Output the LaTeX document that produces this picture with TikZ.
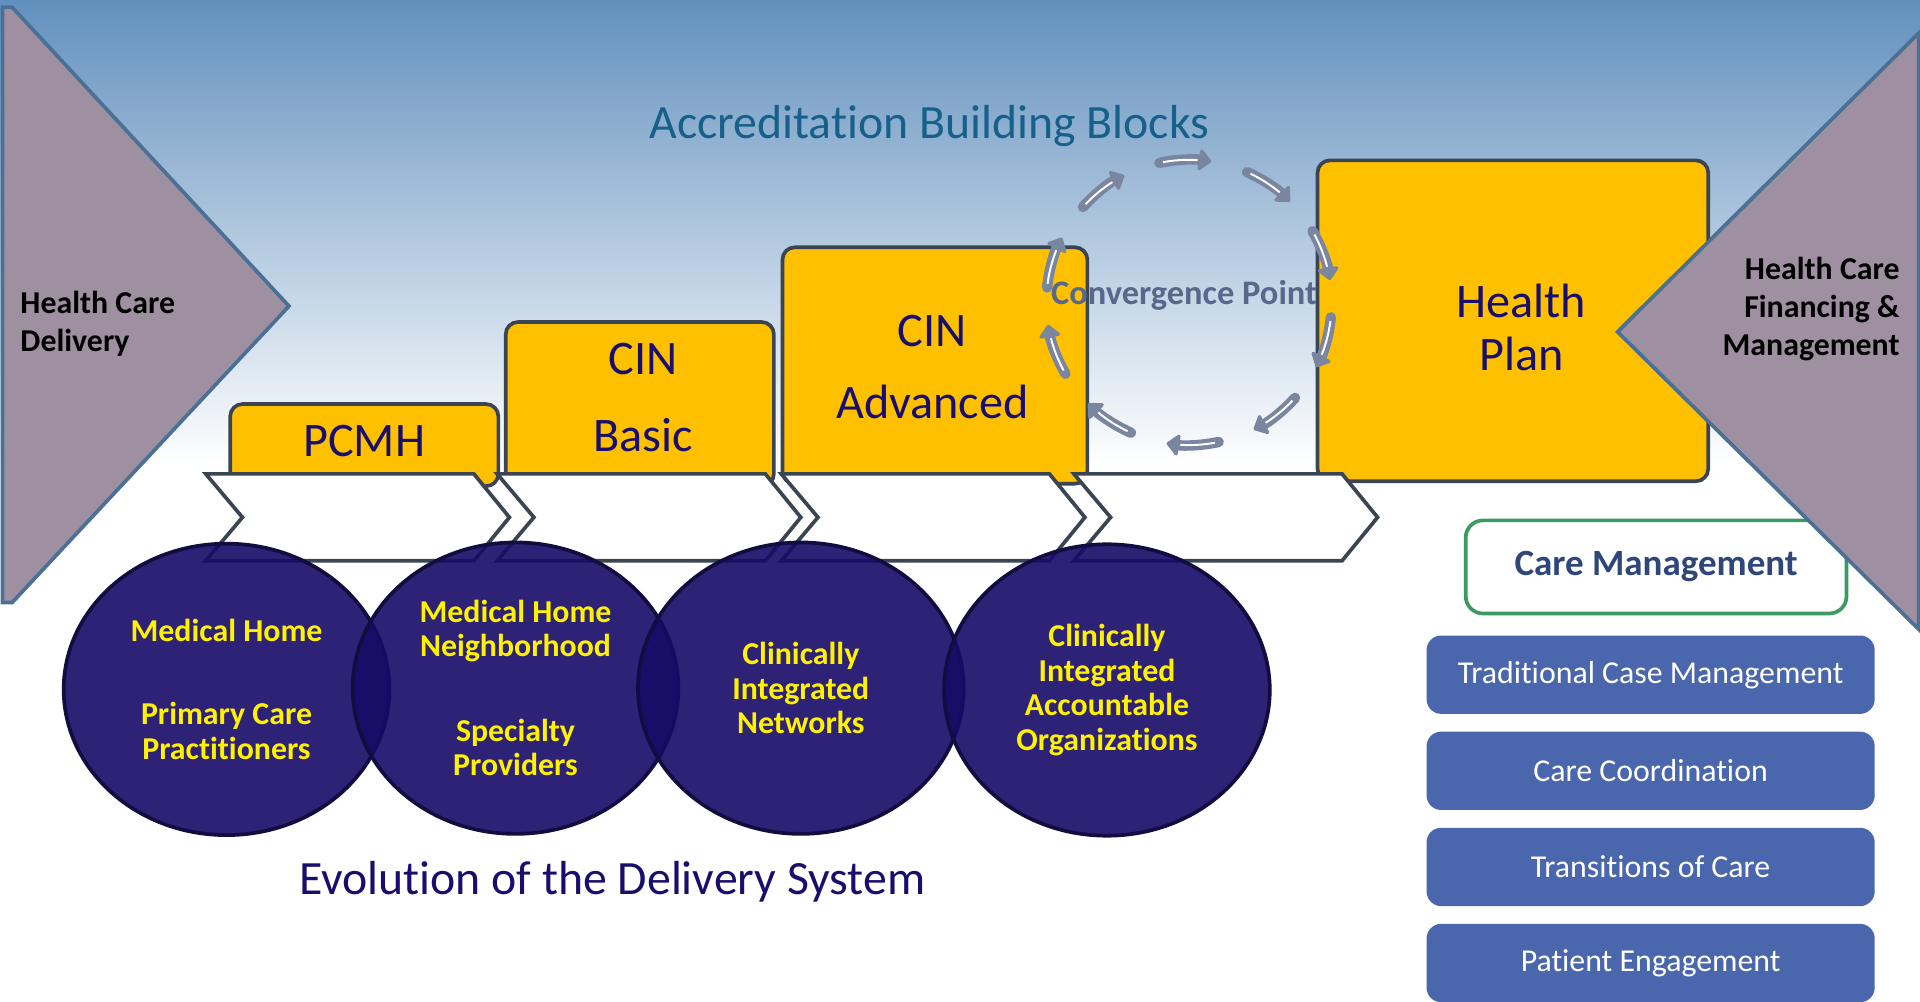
\documentclass[tikz,border=0pt]{standalone}
\usepackage{fontspec}
\setmainfont[Ligatures=NoCommon]{Carlito}
\usepackage{tikz}
\usetikzlibrary{shapes.geometric, arrows.meta}
\definecolor{skytop}{RGB}{98,144,190}
\definecolor{skymid}{RGB}{198,218,234}
\definecolor{mauve}{RGB}{158,144,160}
\definecolor{steel}{RGB}{74,112,150}
\definecolor{gold}{RGB}{255,192,0}
\definecolor{slate}{RGB}{59,68,82}
\definecolor{inkblue}{RGB}{24,14,110}
\definecolor{titleblue}{RGB}{22,96,138}
\definecolor{ovalfill}{RGB}{23,11,103}
\definecolor{ovalline}{RGB}{18,12,64}
\definecolor{cmgreen}{RGB}{58,154,98}
\definecolor{cmtext}{RGB}{46,70,122}
\definecolor{cmblue}{RGB}{74,103,173}
\definecolor{loopgray}{RGB}{122,134,160}
\definecolor{looptext}{RGB}{88,104,138}
\tikzstyle{block} = [rectangle, rounded corners=1mm, draw=slate, line width=0.3mm, fill=gold, inner sep=0pt]
\tikzstyle{blocktext} = [text=inkblue, inner sep=0pt, align=center]
\tikzstyle{chevron} = [draw=slate, line width=0.3mm, fill=white, line join=miter]
\tikzstyle{oval} = [ellipse, minimum width=26.6mm, minimum height=23.8mm, inner sep=0pt, fill=ovalfill, fill opacity=0.9, text opacity=1, draw=ovalline, line width=0.3mm, text=yellow, align=center, font=\bfseries\fontsize{7.4}{8}\selectfont]
\tikzstyle{wedge} = [fill=mauve, draw=steel, line width=0.3mm, line join=miter]
\tikzstyle{wedgetext} = [inner sep=0pt, font=\bfseries\fontsize{7.4}{8.8}\selectfont]
\tikzstyle{cmbox} = [rectangle, rounded corners=1.4mm, draw=cmgreen, line width=0.3mm, fill=white, minimum width=31.1mm, minimum height=7.6mm, text=cmtext, font=\bfseries\fontsize{8.6}{10}\selectfont]
\tikzstyle{cmitem} = [rectangle, rounded corners=1.2mm, fill=cmblue, minimum width=36.6mm, minimum height=6.4mm, text=white, font=\fontsize{7.4}{9}\selectfont]
\tikzstyle{looparrow} = [draw=loopgray, line width=0.85mm, line cap=round, -{Triangle[length=1.1mm, width=2.0mm, round]}]
\tikzstyle{loopcore} = [draw=white, line width=0.16mm]
\tikzstyle{heading} = [font=\fontsize{11.1}{13}\selectfont]

\begin{document}
\begin{tikzpicture}[x=1mm, y=-1mm, node distance=7.85mm]
	\useasboundingbox (0,0) rectangle (156.8,81.8);
	\shade[top color=skytop, middle color=skymid, bottom color=white] (0,0) rectangle (156.8,38);
	\fill[white] (0,38) rectangle (156.8,81.8);
	%----------------------------------------------------%
	\draw[wedge] (0.2,0.6) -- (1.0,0.6) -- (23.6,25.0) -- (1.0,49.2) -- (0.2,49.2) -- cycle;
	\node(delivery) [wedgetext, anchor=west, align=left] at (1.6,26.45) {Health Care\\Delivery};
	\node(abb) [heading, text=titleblue] at (75.9,10.3) {Accreditation Building Blocks};
	%----------------------------------------------------%
	\node(pcmh) [block, minimum width=21.9mm, minimum height=6.7mm] at (29.75,36.35) {};
	\node(cinbasic) [block, minimum width=21.9mm, minimum height=13.4mm] at (52.25,33.0) {};
	\node(cinadv) [block, minimum width=24.9mm, minimum height=19.3mm] at (76.35,29.85) {};
	\node(plan) [block, minimum width=31.9mm, minimum height=26.2mm] at (123.55,26.2) {};
	\node(pcmhtext) [blocktext, font=\fontsize{11.2}{13}\selectfont] at ([shift={(0,-0.3)}]pcmh.center) {PCMH};
	\node(basictext) [blocktext, font=\fontsize{11.2}{17.9}\selectfont] at ([shift={(0.25,-0.5)}]cinbasic.center) {CIN\\Basic};
	\node(advtext) [blocktext, font=\fontsize{11.2}{16.8}\selectfont] at ([shift={(-0.2,0.15)}]cinadv.center) {CIN\\Advanced};
	\node(plantext) [blocktext, font=\fontsize{11.2}{12.4}\selectfont] at ([shift={(0.7,0.55)}]plan.center) {Health\\Plan};
	
	\foreach \l in {16.8, 40.6, 63.8, 87.7}
		\draw[chevron] (\l,38.7) -- ++(21.9,0) -- ++(2.9,3.55) -- ++(-2.9,3.55) -- ++(-21.9,0) -- ++(3.0,-3.55) -- cycle;
	%----------------------------------------------------%
	\node(home) [oval] at (18.5,56.3) {Medical Home\\[4mm]Primary Care\\Practitioners};
	\node(hood) [oval] at (42.1,56.2) {Medical Home\\Neighborhood\\[4.1mm]Specialty\\Providers};
	\node(cin) [oval] at (65.4,56.2) {Clinically\\Integrated\\Networks};
	\node(aco) [oval] at (90.4,56.35) {Clinically\\Integrated\\Accountable\\Organizations};
	\node(evo) [heading, text=inkblue] at (50.0,72.0) {Evolution of the Delivery System};
	%----------------------------------------------------%
	\coordinate(conv) at (97.1,24.7);
	\foreach \k [evaluate=\k as \s using -102+36*\k] in {0,...,9}{
		\draw[looparrow] ([shift={(\s:11.65)}]conv) arc[start angle=\s, delta angle=21, radius=11.65];
		\draw[loopcore] ([shift={(\s+1.5:11.65)}]conv) arc[start angle=\s+1.5, delta angle=14, radius=11.65];
	}
	\node(convpt) [font=\bfseries\fontsize{8}{10}\selectfont, text=looptext] at (96.7,24.15) {Convergence Point};
	%----------------------------------------------------%
	\node(cm) [cmbox] at (135.25,46.3) {Care Management};
	\node(trad) [cmitem] at (134.8,55.1) {Traditional Case Management};
	\node(coord) [cmitem, below of=trad] {Care Coordination};
	\node(trans) [cmitem, below of=coord] {Transitions of Care};
	\node(engage) [cmitem, below of=trans] {Patient Engagement};
	
	\draw[wedge] (156.7,2.7) -- (132.1,27.1) -- (156.7,51.4) -- cycle;
	\node(financing) [wedgetext, anchor=east, align=right] at (155.2,25.25) {Health Care\\Financing \&\\Management};
\end{tikzpicture}
\end{document}
